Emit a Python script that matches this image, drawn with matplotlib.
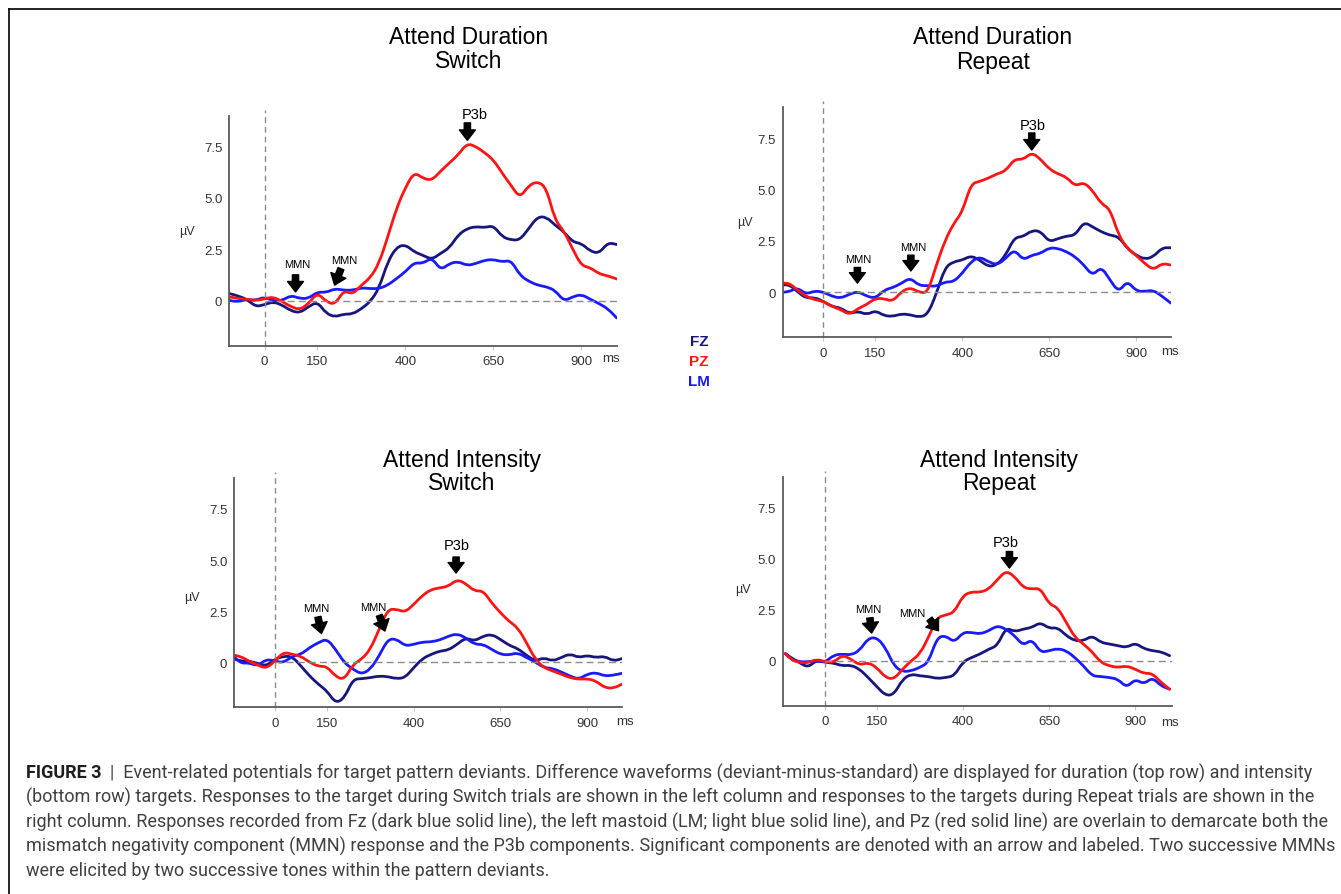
import matplotlib
matplotlib.use('Agg')
import matplotlib.pyplot as plt
from matplotlib.lines import Line2D
from matplotlib.path import Path
from matplotlib.patches import PathPatch

W, H = 1341, 895

# %% data (µV), one value per time point
T = [-115] + list(range(-100, 1001, 25))

# Attend Duration - Switch
dur_sw_pz = [0.2, 0.18, 0.1, 0.06, 0.0, 0.08, 0.18, -0.05, -0.3, -0.45, -0.15, 0.38, -0.05, -0.2, 0.5, 0.3,
             0.75, 1.1, 1.8, 3.1, 4.5, 5.5, 6.25, 5.95, 5.85, 6.3, 6.7, 7.1, 7.65, 7.5, 7.2, 6.85, 6.2, 5.6,
             5.0, 5.6, 5.8, 5.5, 3.9, 3.4, 2.5, 1.7, 1.6, 1.3, 1.2, 1.05]
dur_sw_fz = [0.38, 0.35, 0.22, 0.06, -0.3, -0.2, -0.06, -0.22, -0.5, -0.6, -0.3, -0.06, -0.63, -0.8, -0.66,
             -0.66, -0.4, -0.06, 0.58, 1.9, 2.6, 2.72, 2.37, 2.2, 2.0, 2.3, 2.56, 3.2, 3.5, 3.6, 3.55, 3.65,
             3.1, 2.95, 2.95, 3.5, 4.07, 4.07, 3.67, 3.35, 2.85, 2.78, 2.4, 2.3, 2.82, 2.73]
dur_sw_lm = [0.05, 0.0, -0.06, 0.06, 0.0, 0.18, -0.03, 0.0, 0.25, 0.1, 0.1, 0.42, 0.39, 0.58, 0.5, 0.5, 0.62,
             0.58, 0.58, 0.75, 1.07, 1.4, 1.85, 1.8, 2.1, 1.48, 1.8, 1.9, 1.7, 1.8, 1.96, 2.0, 1.88, 1.96,
             1.23, 0.94, 0.75, 0.67, 0.5, -0.03, 0.18, 0.3, 0.06, -0.15, -0.4, -0.85]

# Attend Duration - Repeat
dur_rep_pz = [0.43, 0.47, 0.1, -0.2, -0.37, -0.45, -0.7, -0.85, -1.1, -0.8, -0.6, -0.3, -0.32, -0.45, 0.03,
              0.22, 0.0, -0.05, 1.3, 2.5, 3.34, 3.9, 5.27, 5.39, 5.55, 5.76, 5.9, 6.48, 6.45, 6.8, 6.48, 6.0,
              5.76, 5.6, 5.16, 5.35, 4.95, 4.3, 4.06, 2.77, 2.13, 1.8, 1.4, 1.08, 1.4, 1.32]
dur_rep_fz = [0.35, 0.39, 0.03, -0.3, -0.26, -0.45, -0.7, -0.77, -1.05, -0.93, -1.1, -0.9, -1.15, -1.18,
              -1.06, -1.1, -1.22, -1.1, -0.1, 1.2, 1.48, 1.56, 1.77, 1.56, 1.24, 1.32, 1.8, 2.66, 2.7, 3.0,
              2.97, 2.45, 2.6, 2.73, 2.77, 3.42, 3.18, 2.94, 2.77, 2.7, 2.13, 1.8, 1.6, 1.72, 2.16, 2.16]
dur_rep_lm = [0.0, 0.0, 0.22, -0.1, 0.06, 0.0, -0.2, -0.3, -0.1, 0.03, -0.2, -0.3, 0.1, 0.22, 0.43, 0.7,
              0.32, 0.32, 0.27, 0.5, 0.5, 0.92, 1.48, 1.72, 1.48, 1.32, 1.64, 2.08, 1.56, 1.8, 1.88, 2.16,
              2.13, 1.97, 1.72, 1.32, 0.8, 1.24, 0.6, 0.0, 0.55, 0.06, 0.03, 0.1, -0.2, -0.53]

# Attend Intensity - Switch
int_sw_pz = [0.34, 0.3, 0.06, -0.13, -0.3, 0.06, 0.5, 0.39, 0.3, 0.0, -0.2, -0.2, -0.7, -0.85, -0.1, 0.15,
             0.63, 1.6, 2.58, 2.6, 2.45, 2.83, 3.27, 3.56, 3.64, 3.72, 4.05, 3.85, 3.48, 3.5, 2.9, 2.42, 2.0,
             1.69, 0.96, 0.15, -0.26, -0.42, -0.58, -0.75, -0.83, -0.8, -0.91, -1.24, -1.27, -1.07]
int_sw_fz = [0.15, 0.06, 0.06, -0.05, -0.18, 0.15, 0.3, 0.28, -0.18, -0.67, -1.07, -1.4, -2.0, -1.75, -0.83,
             -0.8, -0.75, -0.67, -0.7, -0.8, -0.75, -0.26, 0.18, 0.39, 0.55, 0.6, 0.88, 1.2, 1.04, 1.28,
             1.37, 1.12, 0.83, 0.67, 0.34, 0.06, 0.23, 0.06, 0.23, 0.42, 0.23, 0.34, 0.23, 0.3, 0.06, 0.18]
int_sw_lm = [0.23, -0.05, -0.02, -0.18, 0.15, 0.06, -0.02, 0.3, 0.39, 0.72, 0.96, 1.15, 0.63, -0.02, -0.34,
             -0.58, -0.34, 0.3, 1.12, 1.15, 0.8, 0.88, 0.99, 1.0, 1.09, 1.28, 1.4, 1.2, 0.88, 0.88, 0.63,
             0.39, 0.36, 0.47, 0.23, 0.02, -0.26, -0.3, -0.47, -0.67, -0.83, -0.58, -0.5, -0.67, -0.63, -0.54]

# Attend Intensity - Repeat
int_rep_pz = [0.35, 0.05, -0.08, -0.11, 0.08, -0.05, -0.08, 0.28, 0.08, -0.21, -0.08, -0.33, -0.82, -0.9,
              -0.41, 0.0, 0.33, 1.14, 2.12, 2.24, 2.37, 3.19, 3.38, 3.35, 3.51, 3.97, 4.41, 4.13, 3.59, 3.51,
              3.55, 2.78, 2.61, 1.88, 1.14, 0.82, 0.44, -0.08, -0.25, -0.33, -0.25, -0.41, -0.62, -0.62,
              -1.06, -1.39]
int_rep_fz = [0.35, 0.16, -0.08, -0.33, 0.03, -0.08, -0.11, -0.25, -0.21, -0.41, -0.82, -1.26, -1.7, -1.65,
              -0.9, -0.65, -0.74, -0.77, -0.87, -0.82, -0.74, -0.05, 0.16, 0.33, 0.57, 0.74, 1.63, 1.42,
              1.55, 1.63, 1.88, 1.58, 1.63, 1.23, 0.98, 0.98, 1.23, 0.9, 0.82, 0.74, 0.65, 0.87, 0.6, 0.49,
              0.44, 0.25]
int_rep_lm = [0.35, 0.08, -0.05, -0.05, 0.0, -0.08, 0.28, 0.33, 0.28, 0.5, 1.1, 1.14, 0.65, -0.25, -0.54,
              -0.49, -0.33, -0.08, 1.14, 1.23, 0.9, 1.39, 1.39, 1.31, 1.47, 1.72, 1.55, 1.23, 0.74, 1.06,
              0.41, 0.49, 0.6, 0.49, 0.16, -0.25, -0.74, -0.77, -0.82, -0.9, -1.31, -0.9, -1.14, -0.82,
              -1.23, -1.39]

x_ticks = [0, 150, 400, 650, 900]
y_ticks = [0, 2.5, 5.0, 7.5]
y_ticklabels = ['0', '2.5', '5.0', '7.5']
channels = ['FZ', 'PZ', 'LM']
colors = {'FZ': '#16167c', 'PZ': '#ff1414', 'LM': '#1a1aff'}

# %% figure
plt.rcParams['font.family'] = ['Liberation Sans', 'DejaVu Sans']
fig = plt.figure(figsize=(W / 100, H / 100), dpi=100)


def fx(px):
    return px / W


def fy(py):
    return 1 - py / H


def smooth_trace(ax, xs, ys, color):
    # quadratic bezier through the sample points, drawn in data coordinates
    verts = [(xs[0], ys[0])]
    codes = [Path.MOVETO]
    for i in range(1, len(xs) - 1):
        verts += [(xs[i], ys[i]), ((xs[i] + xs[i + 1]) / 2, (ys[i] + ys[i + 1]) / 2)]
        codes += [Path.CURVE3, Path.CURVE3]
    verts.append((xs[-1], ys[-1]))
    codes.append(Path.LINETO)
    ax.add_patch(PathPatch(Path(verts, codes), facecolor='none', edgecolor=color,
                           lw=2.0, capstyle='round', joinstyle='round'))


def add_panel(rect, xlim, fz, pz, lm, title, title_x, title_y, unit_xy, ms_xy, notes):
    l, t, r, b = rect
    ax = fig.add_axes([fx(l), fy(b), (r - l) / W, (b - t) / H])
    ylim = (-2.2, 9.0)
    ax.set_xlim(xlim)
    ax.set_ylim(ylim)
    ax.plot([0, 0], [ylim[0], 9.3], ls=(0, (4, 3)), color='#8a8a8a', lw=1, clip_on=False)
    ax.plot([0, xlim[1]], [0, 0], ls=(0, (5, 3)), color='#8a8a8a', lw=1)
    smooth_trace(ax, T, fz, colors['FZ'])
    smooth_trace(ax, T, lm, colors['LM'])
    smooth_trace(ax, T, pz, colors['PZ'])
    for s in ['top', 'right']:
        ax.spines[s].set_visible(False)
    for s in ['left', 'bottom']:
        ax.spines[s].set_color('#5a5a5a')
        ax.spines[s].set_linewidth(1.3)
    ax.set_xticks(x_ticks)
    ax.set_yticks(y_ticks)
    ax.set_yticklabels(y_ticklabels)
    ax.tick_params(axis='y', length=0, pad=5, labelsize=9.5, labelcolor='#333333')
    ax.tick_params(axis='x', length=3, color='#c8c8c8', pad=4, labelsize=9.5, labelcolor='#333333')
    ax.patch.set_alpha(0)

    fig.text(fx(title_x), fy(title_y[0]), title[0], ha='center', va='center', fontsize=16.5)
    fig.text(fx(title_x), fy(title_y[1]), title[1], ha='center', va='center', fontsize=16.5)
    fig.text(fx(unit_xy[0]), fy(unit_xy[1]), 'µV', ha='center', va='center', fontsize=9, color='#333333')
    fig.text(fx(ms_xy[0]), fy(ms_xy[1]), 'ms', ha='center', va='center', fontsize=9.5, color='#333333')

    for label, lab_xy, tail, tip in notes:
        size = 10.5 if label == 'P3b' else 8
        ax.text(lab_xy[0], lab_xy[1], label, ha='center', va='center', fontsize=size)
        ax.annotate('', xy=tip, xytext=tail,
                    arrowprops=dict(arrowstyle='simple,head_length=0.75,head_width=1.15,tail_width=0.45',
                                    color='black', mutation_scale=10, shrinkA=0, shrinkB=0))
    return ax


add_panel((229.3, 116.7, 616.7, 346.7), (-100, 1000), dur_sw_fz, dur_sw_pz, dur_sw_lm,
          ('Attend Duration', 'Switch'), 469, (38, 62), (187, 232), (611, 359),
          [('MMN', (93, 1.77), (88, 1.25), (88, 0.42)),
           ('MMN', (225, 1.96), (217, 1.55), (199, 0.75)),
           ('P3b', (597, 9.1), (576, 8.65), (576, 7.8))])
add_panel((782.7, 108.3, 1170.7, 338.3), (-117, 1000), dur_rep_fz, dur_rep_pz, dur_rep_lm,
          ('Attend Duration', 'Repeat'), 993, (38, 62), (745, 223), (1170, 352),
          [('MMN', (101, 1.61), (98, 1.2), (98, 0.44)),
           ('MMN', (259, 2.18), (252, 1.8), (252, 1.03)),
           ('P3b', (604, 8.13), (600, 7.75), (600, 6.92))])
add_panel((234.3, 479.3, 622.3, 708.3), (-117, 1001), int_sw_fz, int_sw_pz, int_sw_lm,
          ('Attend Intensity', 'Switch'), 462, (461, 484), (192, 598), (625, 722),
          [('MMN', (120, 2.67), (124, 2.22), (134, 1.41)),
           ('MMN', (283, 2.72), (301, 2.3), (317, 1.53)),
           ('P3b', (523, 5.76), (522, 5.15), (522, 4.37))])
add_panel((782.7, 478, 1171.7, 706.7), (-123, 1006), int_rep_fz, int_rep_pz, int_rep_lm,
          ('Attend Intensity', 'Repeat'), 999, (461, 484), (743, 590), (1170, 723),
          [('MMN', (126, 2.53), (130, 2.1), (135, 1.36)),
           ('MMN', (252, 2.34), (303, 2.05), (329, 1.47)),
           ('P3b', (523, 5.8), (535, 5.35), (535, 4.54))])

# channel legend
for i, ch in enumerate(channels):
    fig.text(fx(699), fy(342 + 20 * i), ch, ha='center', va='center', fontsize=11,
             fontweight='bold', color=colors[ch])

# frame lines (top and left)
fig.add_artist(Line2D([fx(9), 1], [fy(10), fy(10)], color='black', lw=1.2, transform=fig.transFigure))
fig.add_artist(Line2D([fx(9), fx(9)], [fy(10), 0], color='black', lw=1.2, transform=fig.transFigure))

# caption
caption = [
    'Event-related potentials for target pattern deviants. Difference waveforms (deviant-minus-standard) '
    'are displayed for duration (top row) and intensity',
    '(bottom row) targets. Responses to the target during Switch trials are shown in the left column and '
    'responses to the targets during Repeat trials are shown in the',
    'right column. Responses recorded from Fz (dark blue solid line), the left mastoid (LM; light blue '
    'solid line), and Pz (red solid line) are overlain to demarcate both the',
    'mismatch negativity component (MMN) response and the P3b components. Significant components are '
    'denoted with an arrow and labeled. Two successive MMNs',
    'were elicited by two successive tones within the pattern deviants.',
]
cap_y = [773, 797.5, 822, 846.5, 871]
cap_color = '#404040'
cap_font = ['Roboto', 'Liberation Sans', 'DejaVu Sans']

renderer = fig.canvas.get_renderer()
probe = fig.text(fx(26), fy(cap_y[2]), caption[2], fontsize=11, va='center', family=cap_font)
width = probe.get_window_extent(renderer).width
probe.remove()
cap_size = 11 * (1317 - 26) / width

head = fig.text(fx(26), fy(cap_y[0]), 'FIGURE 3', fontsize=cap_size, fontweight='bold',
                color='#1e1e1e', va='center', family=cap_font)
head_w = head.get_window_extent(renderer).width
fig.text(fx(26 + head_w + 8), fy(cap_y[0]), '|  ' + caption[0], fontsize=cap_size,
         color=cap_color, va='center', family=cap_font)
for line, yy in zip(caption[1:], cap_y[1:]):
    fig.text(fx(26), fy(yy), line, fontsize=cap_size, color=cap_color, va='center', family=cap_font)

fig.savefig('out.png', dpi=100)
